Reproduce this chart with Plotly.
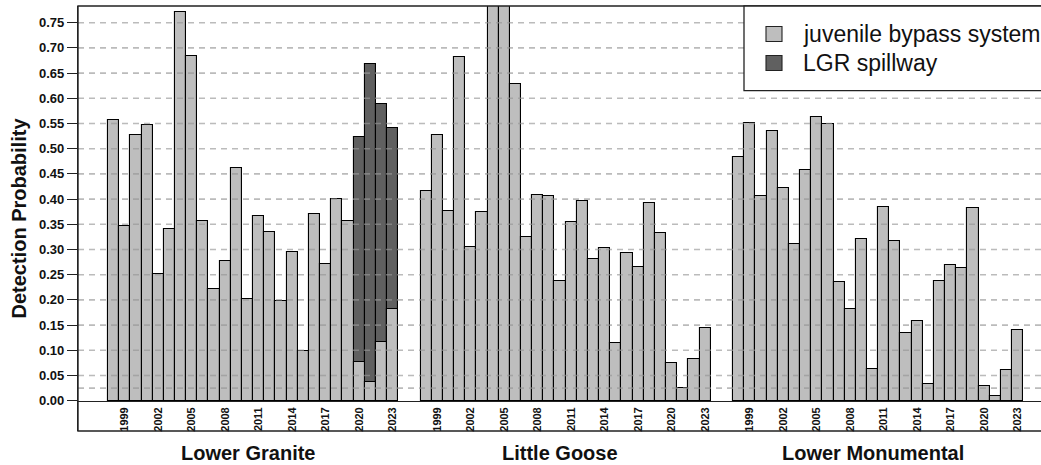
import plotly.graph_objects as go

years = list(range(1998, 2024))
groups = ["Lower Granite", "Little Goose", "Lower Monumental"]

jbs_lower_granite = [0.556, 0.346, 0.528, 0.547, 0.252, 0.341, 0.771, 0.683, 0.356, 0.222,
                     0.277, 0.461, 0.201, 0.366, 0.334, 0.198, 0.295, 0.098, 0.371, 0.271,
                     0.401, 0.357, 0.077, 0.037, 0.116, 0.181]
jbs_little_goose = [0.417, 0.527, 0.377, 0.682, 0.305, 0.375, 0.85, 0.81, 0.628, 0.324,
                    0.408, 0.406, 0.238, 0.355, 0.396, 0.281, 0.303, 0.114, 0.294, 0.266,
                    0.392, 0.333, 0.074, 0.025, 0.083, 0.144]
jbs_lower_monumental = [0.483, 0.551, 0.406, 0.535, 0.422, 0.311, 0.458, 0.562, 0.549, 0.235,
                        0.182, 0.320, 0.062, 0.385, 0.316, 0.135, 0.159, 0.034, 0.237, 0.270,
                        0.264, 0.383, 0.029, 0.010, 0.061, 0.140]
spill_years = [2020, 2021, 2022, 2023]
spill_lower_granite = [0.524, 0.669, 0.589, 0.541]

tick_years = [1999, 2002, 2005, 2008, 2011, 2014, 2017, 2020, 2023]
label_year = 2010
grid_values = [0.025] + [round(0.05 * k, 2) for k in range(1, 16)]
ytick_values = [round(0.05 * k, 2) for k in range(0, 16)]

GROUP_STRIDE = 28  # 26 year slots + 2 empty slots between groups


def xpos(g, y):
    return g * GROUP_STRIDE + (y - years[0])


FONT = "Liberation Sans, Arial, sans-serif"
LIGHT = "#bebebe"
DARK = "#606060"

fig = go.Figure()

# spillway bars (drawn first, underneath)
fig.add_trace(go.Bar(
    x=[xpos(0, y) for y in spill_years], y=spill_lower_granite,
    width=1, marker=dict(color=DARK, line=dict(color="black", width=1.1)),
    opacity=1, showlegend=False, name="LGR spillway", hoverinfo="skip"))

jbs_all = [jbs_lower_granite, jbs_little_goose, jbs_lower_monumental]
xs, ys = [], []
for g, vals in enumerate(jbs_all):
    for y, v in zip(years, vals):
        xs.append(xpos(g, y))
        ys.append(v)
fig.add_trace(go.Bar(
    x=xs, y=ys, width=1,
    marker=dict(color=LIGHT, line=dict(color="black", width=1.1)),
    opacity=1, showlegend=False, name="juvenile bypass system", hoverinfo="skip"))

# x ticks
tickvals, ticktext = [], []
for g in range(3):
    for y in tick_years:
        tickvals.append(xpos(g, y))
        ticktext.append(str(y))

Y0PX = 400.7
TOPPX = 6
BOTPX = 431
PXU = 504.0
y_top = (Y0PX - TOPPX) / PXU
y_bot = (Y0PX - BOTPX) / PXU

x_left = -3.19
x_right = 83.09

shapes = []
for gv in grid_values:
    shapes.append(dict(type="line", xref="paper", x0=0, x1=1, yref="y", y0=gv, y1=gv,
                       line=dict(color="rgba(150,150,150,0.65)", width=1.6, dash="6px,5px"),
                       layer="above"))
# frame
shapes.append(dict(type="rect", xref="paper", yref="paper", x0=0, x1=1.2, y0=0, y1=1,
                   line=dict(color="#222222", width=1.4), layer="above"))

# custom legend
plot_w = 1041 - 78
def px_x(p):
    return (p - 78) / plot_w
def px_y(p):
    return (BOTPX - p) / (BOTPX - TOPPX)

shapes.append(dict(type="rect", xref="paper", yref="paper", x0=px_x(744), x1=1.2,
                   y0=px_y(90.7), y1=1, line=dict(color="#222222", width=1.3),
                   fillcolor="white", layer="above"))
legend_items = [("juvenile bypass system", LIGHT, 34), ("LGR spillway", DARK, 63)]
annotations = []
for text, col, cy in legend_items:
    shapes.append(dict(type="rect", xref="paper", yref="paper",
                       x0=px_x(766), x1=px_x(782), y0=px_y(cy + 7.5), y1=px_y(cy - 7.5),
                       line=dict(color="#222222", width=1.1), fillcolor=col, layer="above"))
    annotations.append(dict(xref="paper", yref="paper", x=px_x(801), y=px_y(cy),
                            xanchor="left", yanchor="middle", showarrow=False,
                            text=text, font=dict(family=FONT, size=23, color="#111111")))

for g, name in enumerate(groups):
    annotations.append(dict(xref="x", yref="paper", x=xpos(g, label_year),
                            y=px_y(453), xanchor="center", yanchor="middle",
                            showarrow=False, text="<b>" + name + "</b>",
                            font=dict(family=FONT, size=20, color="#111111")))

fig.update_layout(
    width=1041, height=465,
    margin=dict(l=78, r=0, t=TOPPX, b=465 - BOTPX, pad=0),
    plot_bgcolor="white", paper_bgcolor="white",
    barmode="overlay", bargap=0,
    showlegend=False, hovermode=False,
    shapes=shapes, annotations=annotations,
    font=dict(family=FONT, color="#111111"),
    xaxis=dict(range=[x_left, x_right], tickvals=tickvals, ticktext=ticktext,
               tickangle=-90, ticks="", showgrid=False, zeroline=False,
               showline=True, linecolor="#222222", linewidth=1.3,
               anchor="free", position=(BOTPX - Y0PX) / (BOTPX - TOPPX),
               tickfont=dict(family=FONT, size=11, color="#111111", weight="bold"),
               ticklabelstandoff=1, layer="above traces", automargin=False),
    yaxis=dict(range=[y_bot, y_top], tickvals=ytick_values,
               ticktext=["%.2f" % v for v in ytick_values],
               ticks="outside", ticklen=10, tickwidth=1.3, tickcolor="#222222",
               showgrid=False, zeroline=False, showline=True, linecolor="#222222",
               linewidth=1.3, automargin=False,
               tickfont=dict(family=FONT, size=13, color="#111111", weight="bold"),
               title=dict(text="<b>Detection Probability</b>", standoff=6,
                          font=dict(family=FONT, size=20, color="#111111"))),
)

fig.write_html("out.html", config={"displayModeBar": False},
               post_script="document.body.style.margin='0';")
